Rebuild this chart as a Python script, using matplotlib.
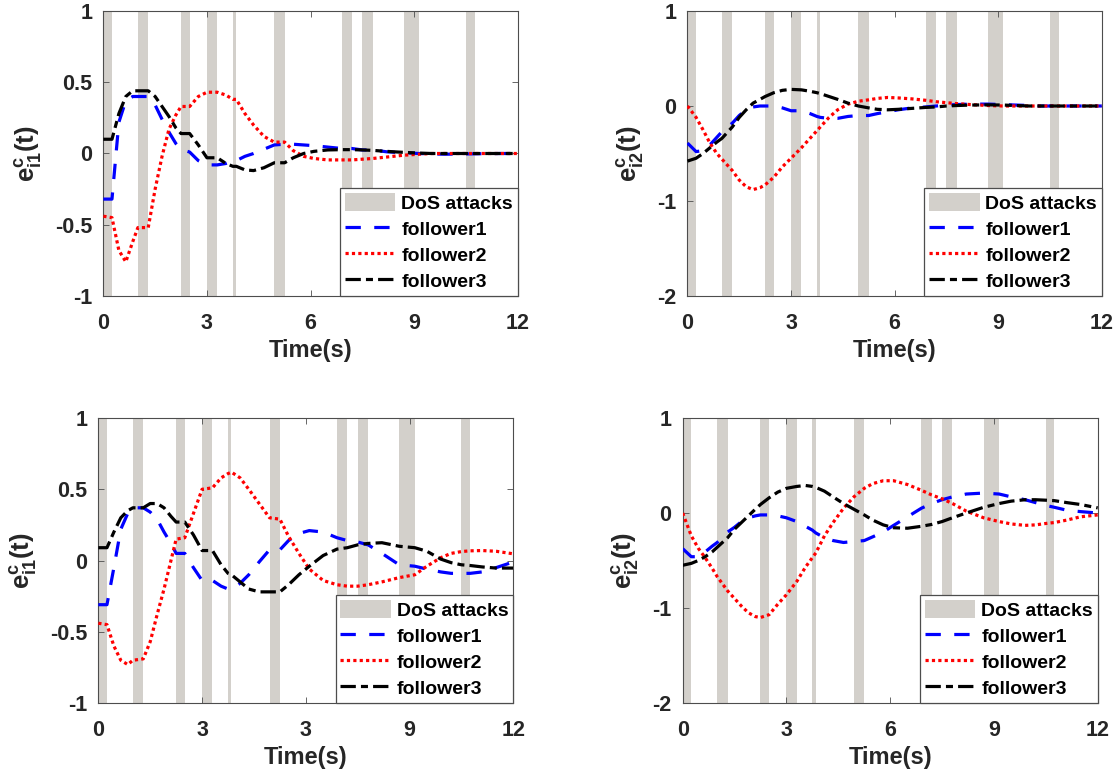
import matplotlib
matplotlib.use('Agg')
import matplotlib.pyplot as plt

plt.rcParams['font.family'] = ['Liberation Sans', 'DejaVu Sans']
plt.rcParams['mathtext.fontset'] = 'custom'
plt.rcParams['mathtext.rm'] = 'Liberation Sans'
plt.rcParams['mathtext.bf'] = 'Liberation Sans:bold'
plt.rcParams['mathtext.it'] = 'Liberation Sans:italic'

# DoS attack intervals (start, end) in seconds
dos_start = [0.0, 1.0, 2.25, 3.0, 3.75, 4.95, 6.9, 7.5, 8.7, 10.5]
dos_end = [0.25, 1.3, 2.5, 3.3, 3.85, 5.25, 7.2, 7.8, 9.15, 10.75]

# common time grid the values were read on
t = [0, 0.25, 0.45, 0.65, 0.85, 1.0, 1.3, 1.5, 1.7, 1.9, 2.1, 2.25, 2.5, 2.75,
     3.0, 3.3, 3.55, 3.75, 3.85, 4.1, 4.35, 4.65, 4.95, 5.25, 5.5, 5.8, 6.1,
     6.5, 6.9, 7.2, 7.5, 7.8, 8.2, 8.7, 9.15, 9.5, 9.9, 10.2, 10.5, 10.75,
     11.1, 11.5, 12.0]

# top left: e_i1
tl_f1 = [-0.32, -0.32, 0.22, 0.37, 0.4, 0.4, 0.4, 0.34, 0.24, 0.15, 0.07, 0.03, 0.01, -0.05,
         -0.08, -0.08, -0.07, -0.05, -0.05, -0.02, 0.0, 0.03, 0.06, 0.065, 0.065, 0.06, 0.055,
         0.045, 0.035, 0.035, 0.025, 0.025, 0.012, 0.005, 0.0, -0.003, -0.005, -0.004, -0.003, -0.002,
         -0.001, 0.0, 0.0]
tl_f2 = [-0.44, -0.45, -0.68, -0.76, -0.62, -0.52, -0.52, -0.25, -0.02, 0.17, 0.27, 0.33, 0.33, 0.4,
         0.43, 0.43, 0.41, 0.38, 0.38, 0.28, 0.2, 0.12, 0.08, 0.08, 0.02, -0.02, -0.035,
         -0.045, -0.045, -0.045, -0.04, -0.035, -0.025, -0.012, -0.005, 0.0, 0.0, 0.0, 0.0, 0.0,
         0.0, 0.0, 0.0]
tl_f3 = [0.1, 0.1, 0.28, 0.4, 0.44, 0.44, 0.44, 0.4, 0.33, 0.26, 0.18, 0.14, 0.14, 0.06,
         -0.03, -0.03, -0.07, -0.09, -0.09, -0.115, -0.12, -0.1, -0.065, -0.065, -0.03, 0.0, 0.015,
         0.025, 0.027, 0.027, 0.025, 0.022, 0.015, 0.008, 0.003, 0.0, 0.0, 0.0, 0.0, 0.0,
         0.0, 0.0, 0.0]

# top right: e_i2
tr_f1 = [-0.39, -0.48, -0.47, -0.41, -0.33, -0.27, -0.18, -0.1, -0.04, -0.01, 0.0, 0.0, 0.0, -0.02,
         -0.05, -0.05, -0.08, -0.11, -0.12, -0.13, -0.13, -0.11, -0.1, -0.1, -0.08, -0.06, -0.04,
         -0.02, -0.01, 0.0, 0.01, 0.015, 0.02, 0.02, 0.015, 0.01, 0.005, 0.0, 0.0, 0.0,
         0.0, 0.0, 0.0]
tr_f2 = [0.0, -0.12, -0.25, -0.39, -0.5, -0.56, -0.68, -0.78, -0.85, -0.88, -0.86, -0.83, -0.75, -0.64,
         -0.55, -0.44, -0.34, -0.26, -0.22, -0.12, -0.04, 0.02, 0.05, 0.065, 0.08, 0.09, 0.085,
         0.075, 0.06, 0.045, 0.035, 0.025, 0.015, 0.005, 0.0, 0.0, 0.0, 0.0, 0.0, 0.0,
         0.0, 0.0, 0.0]
tr_f3 = [-0.58, -0.55, -0.5, -0.44, -0.38, -0.34, -0.22, -0.12, -0.04, 0.03, 0.07, 0.1, 0.14, 0.165,
         0.175, 0.17, 0.155, 0.14, 0.13, 0.1, 0.07, 0.03, 0.0, -0.02, -0.035, -0.04, -0.035,
         -0.025, -0.015, -0.01, 0.0, 0.005, 0.01, 0.012, 0.01, 0.005, 0.0, 0.0, 0.0, 0.0,
         0.0, 0.0, 0.0]

# bottom left: e_i1
bl_f1 = [-0.31, -0.31, -0.05, 0.22, 0.33, 0.37, 0.37, 0.34, 0.29, 0.2, 0.12, 0.05, 0.05, -0.05,
         -0.14, -0.14, -0.18, -0.2, -0.2, -0.16, -0.1, -0.01, 0.075, 0.075, 0.14, 0.19, 0.21,
         0.2, 0.16, 0.14, 0.13, 0.11, 0.05, -0.03, -0.04, -0.06, -0.08, -0.09, -0.09, -0.09,
         -0.08, -0.05, -0.01]
bl_f2 = [-0.44, -0.45, -0.6, -0.7, -0.73, -0.7, -0.69, -0.57, -0.38, -0.2, 0.0, 0.15, 0.16, 0.33,
         0.5, 0.51, 0.58, 0.61, 0.62, 0.58, 0.5, 0.4, 0.3, 0.29, 0.17, 0.05, -0.06,
         -0.14, -0.17, -0.18, -0.18, -0.17, -0.15, -0.12, -0.1, -0.04, 0.02, 0.05, 0.063, 0.068,
         0.07, 0.065, 0.047]
bl_f3 = [0.09, 0.09, 0.2, 0.3, 0.35, 0.37, 0.37, 0.4, 0.4, 0.37, 0.31, 0.27, 0.27, 0.18,
         0.07, 0.07, -0.03, -0.09, -0.1, -0.15, -0.2, -0.22, -0.22, -0.22, -0.17, -0.1, -0.04,
         0.035, 0.08, 0.09, 0.11, 0.12, 0.125, 0.1, 0.09, 0.065, 0.01, -0.015, -0.03, -0.035,
         -0.045, -0.053, -0.053]

# bottom right: e_i2
br_f1 = [-0.375, -0.46, -0.46, -0.41, -0.35, -0.31, -0.2, -0.15, -0.09, -0.05, -0.03, -0.02, -0.02, -0.03,
         -0.05, -0.09, -0.14, -0.18, -0.21, -0.26, -0.29, -0.31, -0.3, -0.29, -0.25, -0.2, -0.13,
         -0.04, 0.05, 0.1, 0.14, 0.17, 0.2, 0.21, 0.2, 0.17, 0.14, 0.11, 0.08, 0.06,
         0.03, 0.015, 0.0]
br_f2 = [0.0, -0.24, -0.37, -0.47, -0.58, -0.67, -0.82, -0.9, -0.98, -1.05, -1.09, -1.1, -1.07, -0.96,
         -0.86, -0.72, -0.57, -0.47, -0.42, -0.24, -0.1, 0.05, 0.17, 0.26, 0.31, 0.34, 0.34,
         0.3, 0.24, 0.19, 0.15, 0.1, 0.02, -0.05, -0.09, -0.115, -0.13, -0.125, -0.11, -0.1,
         -0.075, -0.04, -0.02]
br_f3 = [-0.55, -0.53, -0.5, -0.46, -0.41, -0.36, -0.26, -0.17, -0.1, -0.03, 0.04, 0.09, 0.16, 0.22,
         0.26, 0.28, 0.29, 0.28, 0.27, 0.23, 0.17, 0.1, 0.04, -0.02, -0.075, -0.125, -0.155,
         -0.16, -0.14, -0.12, -0.09, -0.05, 0.0, 0.06, 0.1, 0.125, 0.14, 0.14, 0.135, 0.13,
         0.11, 0.09, 0.054]

x_ticks = [0, 3, 6, 9, 12]
x_labels_normal = ['0', '3', '6', '9', '12']
x_labels_bl = ['0', '3', '3', '9', '12']

dos_color = '#d3d0cb'
frame_color = '#4d4d4d'
text_color = '#262626'


def draw_panel(ax, f1, f2, f3, ylim, yticks, ylabel, xlabels):
    for i, (a, b) in enumerate(zip(dos_start, dos_end)):
        ax.axvspan(a, b, color=dos_color, lw=0, zorder=0,
                   label='DoS attacks' if i == 0 else None)
    ax.plot(t, f1, color='blue', lw=2.3, dashes=(4.8, 4.2), label='follower1', zorder=3)
    ax.plot(t, f2, color='red', lw=2.3, linestyle=(0, (1, 1)), label='follower2', zorder=3)
    ax.plot(t, f3, color='black', lw=2.3, dashes=(4.8, 1.6, 2.2, 1.6), label='follower3', zorder=3)
    ax.set_xlim(0, 12)
    ax.set_ylim(*ylim)
    ax.set_xticks(x_ticks)
    ax.set_xticklabels(xlabels)
    ax.set_yticks(yticks)
    ax.set_yticklabels([('%g' % v) for v in yticks])
    ax.tick_params(direction='in', length=4, width=0.6, top=True, right=True,
                   color=frame_color, labelcolor=text_color, labelsize=15.5)
    ax.tick_params(axis='x', pad=12)
    ax.tick_params(axis='y', pad=8)
    for lab in ax.get_xticklabels() + ax.get_yticklabels():
        lab.set_fontweight('bold')
    for s in ax.spines.values():
        s.set_color(frame_color)
        s.set_linewidth(0.8)
    ax.set_xlabel('Time(s)', fontsize=17, fontweight='bold', color=text_color, labelpad=4)
    ax.set_ylabel(ylabel, fontsize=18.5, color=text_color, labelpad=8)
    leg = ax.legend(loc='lower right', borderaxespad=0, fancybox=False, framealpha=1,
                    edgecolor=frame_color, prop={'weight': 'bold', 'size': 14},
                    handlelength=2.6, handleheight=1.0, handletextpad=0.3,
                    labelspacing=0.35, borderpad=0.25)
    leg.get_frame().set_linewidth(0.9)


fig = plt.figure(figsize=(11.16, 7.70), dpi=100)
ax_tl = fig.add_axes([0.0926, 0.6156, 0.3713, 0.3701])
ax_tr = fig.add_axes([0.6160, 0.6156, 0.3713, 0.3701])
ax_bl = fig.add_axes([0.0881, 0.0870, 0.3719, 0.3701])
ax_br = fig.add_axes([0.6117, 0.0870, 0.3719, 0.3701])

lab1 = r'$\mathbf{e}_{\mathbf{i1}}^{\mathbf{c}}\mathbf{(t)}$'
lab2 = r'$\mathbf{e}_{\mathbf{i2}}^{\mathbf{c}}\mathbf{(t)}$'

draw_panel(ax_tl, tl_f1, tl_f2, tl_f3, (-1, 1), [-1, -0.5, 0, 0.5, 1], lab1, x_labels_normal)
draw_panel(ax_tr, tr_f1, tr_f2, tr_f3, (-2, 1), [-2, -1, 0, 1], lab2, x_labels_normal)
draw_panel(ax_bl, bl_f1, bl_f2, bl_f3, (-1, 1), [-1, -0.5, 0, 0.5, 1], lab1, x_labels_bl)
draw_panel(ax_br, br_f1, br_f2, br_f3, (-2, 1), [-2, -1, 0, 1], lab2, x_labels_normal)

fig.savefig('out.png', dpi=100)
